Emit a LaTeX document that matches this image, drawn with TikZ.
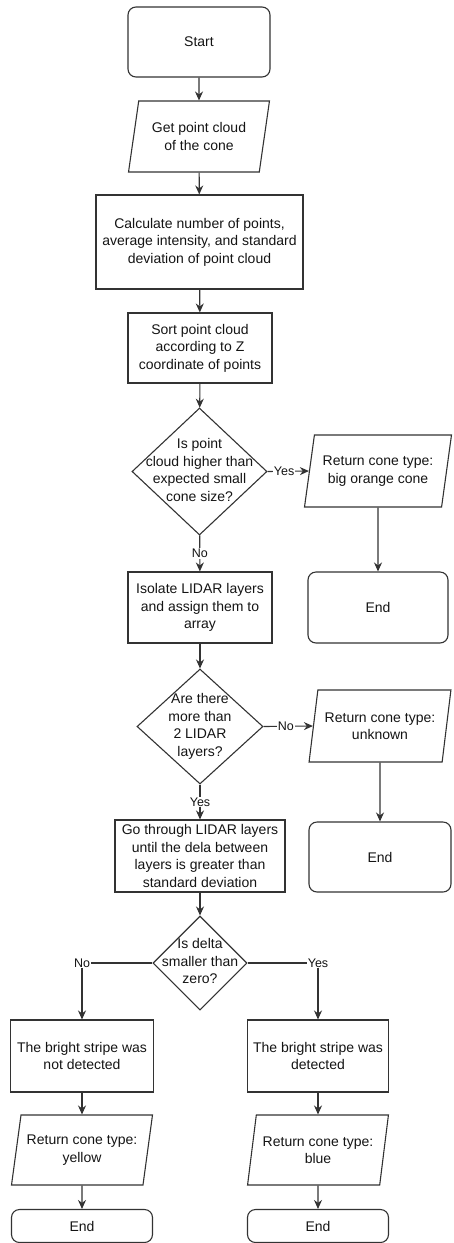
\documentclass[tikz,border=0pt]{standalone}
\usepackage{fontspec}
\setmainfont{Liberation Sans}
\usetikzlibrary{shapes.geometric, arrows.meta}
% text of a decision, kept out of the size of the diamond
\newcommand{\dtxt}[1]{\makebox[0pt]{\smash{\raisebox{-.25em}{\begin{tabular}{@{}c@{}}#1\end{tabular}}}}}

\begin{document}
\begin{tikzpicture}[
  x=1pt, y=-1pt,
  every node/.style = {font=\fontsize{14}{17.5}\selectfont, text=black!92},
  box/.style   = {rectangle, draw=black!80, line width=1.1pt, align=center, inner sep=1pt},
  term/.style  = {box, rounded corners=8pt},
  io/.style    = {trapezium, trapezium left angle=74, trapezium right angle=106, trapezium stretches=true,
                  draw=black!80, line width=1.1pt, align=center, inner sep=0pt},
  dec/.style   = {diamond, draw=black!80, line width=1.1pt, inner sep=0pt},
  Arr/.style   = {draw=black!80, line width=1.1pt, -{Stealth[length=9pt, width=8pt]}},
  lbl/.style   = {fill=white, inner sep=1pt, font=\fontsize{12.5}{14}\selectfont},
  ]
  \useasboundingbox (0,0) rectangle (453,1243);

  % Main column
  \node (start)  at (199,42)    [term, minimum width=142, minimum height=70] {Start};
  \node (getpc)  at (199,136.5) [io, minimum width=141, minimum height=71]   {Get point cloud\\of the cone};
  \node (calc)   at (199.5,242) [box, minimum width=207, minimum height=94]  {Calculate number of points,\\average intensity, and standard\\deviation of point cloud};
  \node (sort)   at (200,348)   [box, minimum width=144, minimum height=70]  {Sort point cloud\\according to Z\\coordinate of points};
  \node (isbig)  at (199.5,471.5) [dec, minimum width=135, minimum height=127] {\dtxt{Is point\\cloud higher than\\expected small\\cone size?}};
  \node (layers) at (200,607.5) [box, minimum width=144, minimum height=71]  {Isolate LIDAR layers\\and assign them to\\array};
  \node (istwo)  at (200,726.5) [dec, minimum width=126, minimum height=115] {\dtxt{Are there\\more than\\2 LIDAR\\layers?}};
  \node (delta)  at (200,856)   [box, minimum width=170, minimum height=72]  {Go through LIDAR layers\\until the dela between\\layers is greater than\\standard deviation};
  \node (isneg)  at (200,963)   [dec, minimum width=94, minimum height=94]   {\dtxt{Is delta\\smaller than\\zero?}};

  % Early exits
  \node (big)    at (378,471)   [io, minimum width=147, minimum height=72]   {Return cone type:\\big orange cone};
  \node (endbig) at (378,607.5) [term, minimum width=140, minimum height=71] {End};
  \node (unk)    at (380,726)   [io, minimum width=142, minimum height=72]   {Return cone type:\\unknown};
  \node (endunk) at (380,857)   [term, minimum width=142, minimum height=70] {End};

  % Stripe branches
  \node (nostripe) at (82,1056)  [box, minimum width=143, minimum height=72] {The bright stripe was\\not detected};
  \node (stripe)   at (318,1056) [box, minimum width=141, minimum height=72] {The bright stripe was\\detected};
  \node (yellow)   at (82,1150)  [io, minimum width=141, minimum height=70]  {Return cone type:\\yellow};
  \node (blue)     at (318,1150) [io, minimum width=141, minimum height=70]  {Return cone type:\\blue};
  \node (endy)     at (82,1226)  [term, minimum width=141, minimum height=33] {End};
  \node (endb)     at (318,1226) [term, minimum width=141, minimum height=33] {End};

  % Connections down the main column
  \draw
  (start)  edge [Arr] (getpc)
  (getpc)  edge [Arr] (calc)
  (calc)   edge [Arr] (sort)
  (sort)   edge [Arr] (isbig)
  (isbig)  edge [Arr] node[lbl] {No}  (layers)
  (layers) edge [Arr] (istwo)
  (istwo)  edge [Arr] node[lbl] {Yes} (delta)
  (delta)  edge [Arr] (isneg);

  % Connections to the exits
  \draw
  (isbig.east) edge [Arr] node[lbl, pos=0.4] {Yes} (big.west)
  (big)        edge [Arr] (endbig)
  (istwo.east) edge [Arr] node[lbl, pos=0.45] {No} (unk.west)
  (unk)        edge [Arr] (endunk);

  % Stripe branches
  \draw [Arr] (isneg.west) -| node[lbl] {No}  (nostripe.north);
  \draw [Arr] (isneg.east) -| node[lbl] {Yes} (stripe.north);
  \draw
  (nostripe) edge [Arr] (yellow)
  (yellow)   edge [Arr] (endy)
  (stripe)   edge [Arr] (blue)
  (blue)     edge [Arr] (endb);
\end{tikzpicture}
\end{document}
